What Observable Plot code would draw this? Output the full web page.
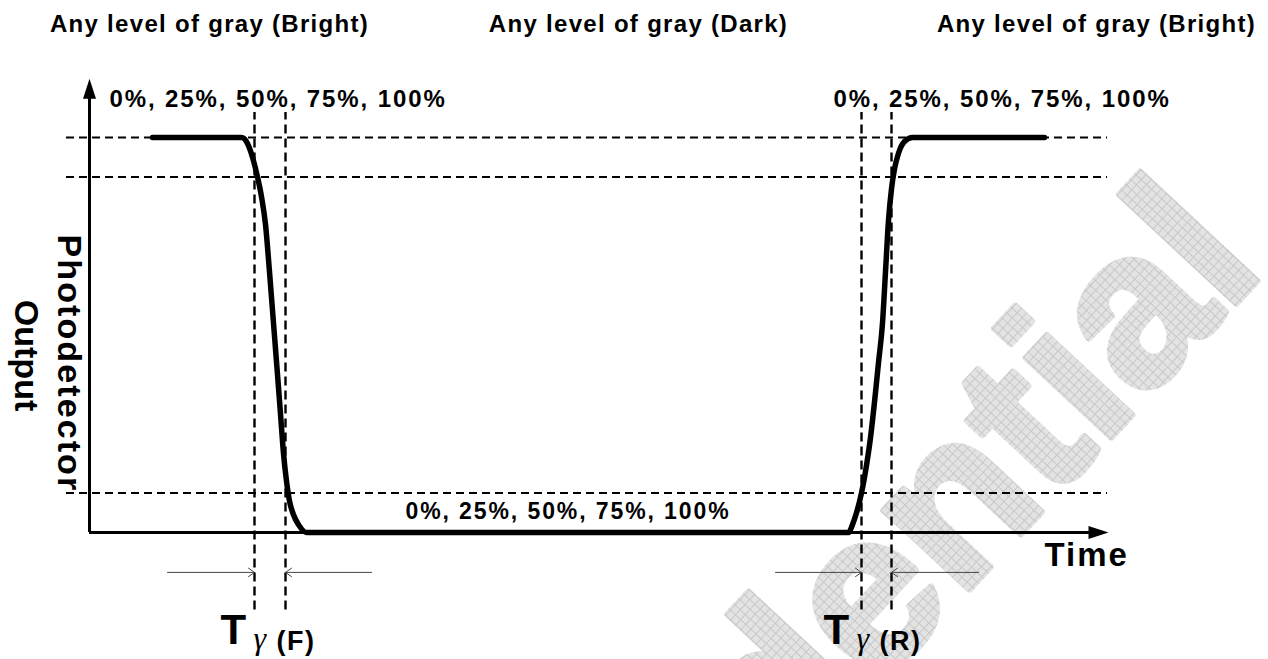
<!DOCTYPE html>
<html><head><meta charset="utf-8">
<script src="https://cdn.jsdelivr.net/npm/d3@7"></script>
<script src="https://cdn.jsdelivr.net/npm/@observablehq/plot@0.6"></script>
<style>html,body{margin:0;padding:0;background:#fff;} #chart svg{display:block;}</style>
</head><body><div id="chart"></div>
<script>
// ---- data (time in arbitrary units, output in % of full swing) ----
const curveTime   = [6.3, 15.2, 15.8, 16.3, 16.8, 17.2, 17.6, 18.0, 18.4, 18.8, 19.1, 19.4, 19.7, 20.0, 20.4, 20.9, 21.7,
                     75.9, 76.3, 76.7, 77.2, 77.7, 78.1, 78.5, 78.9, 79.3, 79.6, 79.9, 80.2, 80.5, 80.9, 81.5, 82.3, 95.5];
const curveOutput = [100, 100, 98.5, 95, 90, 85, 78, 66, 53, 40, 30, 20, 13, 8, 4.5, 2, 0,
                     0, 2, 5, 10, 17, 24, 33, 43, 53, 66, 79, 87, 92, 96, 99, 100, 100];
const levels = [100, 90, 10];
const edgeTimes = [16.5, 19.6, 77.2, 80.2];
const arrowStart = [7.8, 28.2, 68.6, 88.9];
const arrowEnd   = [16.5, 19.6, 77.2, 80.2];
const phaseTitles = ["Any level of gray (Bright)", "Any level of gray (Dark)", "Any level of gray (Bright)"];
const phaseCenters = [12.0, 54.9, 100.7];
const levelLabel = "0%, 25%, 50%, 75%, 100%";
const edgeNames = ["(F)", "(R)"];
const edgeLabelTimes = [13.1, 73.4];
const axisLabels = ["Photodetector", "Output"];
const timeLabel = "Time";
const watermarkWord = "Confidential";

const curve = curveTime.map((t, i) => ({t, v: curveOutput[i]}));
const arrows = arrowStart.map((s, i) => ({s, e: arrowEnd[i]}));

const upHead = {draw(ctx) { ctx.moveTo(0, 0); ctx.lineTo(6.5, 20); ctx.lineTo(-6.5, 20); ctx.closePath(); }};
const rightHead = {draw(ctx) { ctx.moveTo(0, 0); ctx.lineTo(-20, -6.5); ctx.lineTo(-20, 6.5); ctx.closePath(); }};

const bold = {fontWeight: "bold", lineAnchor: "bottom", fill: "black"};

const svg = Plot.plot({
  width: 1268, height: 659, margin: 0,
  x: {domain: [-8.9, 117.9], axis: null},
  y: {domain: [-32.15, 134.68], axis: null},
  style: {fontFamily: "'Liberation Sans', Arial, Helvetica, sans-serif", background: "white", color: "black"},
  marks: [
    Plot.text([watermarkWord], {x: 117.8, y: 66.6, text: d => d, rotate: -47, textAnchor: "end", lineAnchor: "bottom",
      fontSize: 220, fontWeight: "bold", fill: "url(#wmHatch)", stroke: "url(#wmHatch)", strokeWidth: 7, strokeLinejoin: "round"}),
    Plot.ruleY(levels, {x1: -2.3, x2: 101.8, stroke: "black", strokeWidth: 2, strokeDasharray: "8,5"}),
    Plot.ruleX(edgeTimes, {y1: -19.6, y2: 106.3, stroke: "black", strokeWidth: 2.4, strokeDasharray: "9,5"}),
    Plot.ruleX([0], {y1: 0, y2: 110, stroke: "black", strokeWidth: 3}),
    Plot.ruleY([0], {x1: 0, x2: 100, stroke: "black", strokeWidth: 3}),
    Plot.dot([0], {x: 0, y: 114.9, symbol: upHead, fill: "black", stroke: "none"}),
    Plot.dot([0], {x: 101.9, y: 0, symbol: rightHead, fill: "black", stroke: "none"}),
    Plot.line(curve, {x: "t", y: "v", curve: "monotone-x", stroke: "black", strokeWidth: 5.5, strokeLinecap: "round", strokeLinejoin: "round"}),
    Plot.arrow(arrows, {x1: "s", x2: "e", y1: -10.1, y2: -10.1, stroke: "#444", strokeWidth: 1, headLength: 11, headAngle: 70}),
    Plot.text(phaseTitles, {x: (d, i) => phaseCenters[i], y: 126.6, text: d => d, textAnchor: "middle", fontSize: 24, ...bold}),
    Plot.text([levelLabel, levelLabel], {x: [2.0, 74.4], y: [107.6, 107.6], text: d => d, textAnchor: "start", fontSize: 24, ...bold}),
    Plot.text([levelLabel], {x: 31.6, y: 3.3, text: d => d, textAnchor: "start", fontSize: 23, ...bold}),
    Plot.text([timeLabel], {x: 95.5, y: -8.6, text: d => d, textAnchor: "start", fontSize: 33, ...bold}),
    Plot.text(edgeNames, {x: (d, i) => edgeLabelTimes[i], y: -28.3, text: () => "T", textAnchor: "start", fontSize: 42, ...bold}),
    Plot.text(edgeNames, {x: (d, i) => edgeLabelTimes[i] + 3.3, y: -29.4, text: () => "γ", textAnchor: "start", fontSize: 32,
      fontStyle: "italic", fontFamily: "'Liberation Serif', 'DejaVu Serif', serif", lineAnchor: "bottom"}),
    Plot.text(edgeNames, {x: (d, i) => edgeLabelTimes[i] + 5.6, y: -29.7, text: d => d, textAnchor: "start", fontSize: 27, ...bold}),
    Plot.text(axisLabels, {x: [-3.2, -7.5], y: [42.8, 44.8], text: d => d, rotate: 90, textAnchor: "middle", fontSize: 34, ...bold})
  ]
});

const ns = "http://www.w3.org/2000/svg";
const defs = document.createElementNS(ns, "defs");
const pat = document.createElementNS(ns, "pattern");
pat.setAttribute("id", "wmHatch"); pat.setAttribute("width", "7"); pat.setAttribute("height", "7");
pat.setAttribute("patternUnits", "userSpaceOnUse");
const bg = document.createElementNS(ns, "rect");
bg.setAttribute("width", "7"); bg.setAttribute("height", "7"); bg.setAttribute("fill", "#e3e3e3");
const grid = document.createElementNS(ns, "path");
grid.setAttribute("d", "M0 0.5H7M0.5 0V7"); grid.setAttribute("stroke", "#c8c8c8"); grid.setAttribute("stroke-width", "1");
pat.appendChild(bg); pat.appendChild(grid); defs.appendChild(pat);
svg.insertBefore(defs, svg.firstChild);

// letter spacing per label text
const spacing = new Map([
  [phaseTitles[0], "1.3px"], [phaseTitles[1], "1.3px"],
  [levelLabel, "1.9px"], [timeLabel, "2px"],
  [edgeNames[0], "1.5px"], [edgeNames[1], "1.5px"],
  [axisLabels[0], "2.1px"]
]);
svg.querySelectorAll("text").forEach(t => {
  const s = spacing.get(t.textContent);
  if (s) t.style.letterSpacing = s;
});
document.getElementById("chart").appendChild(svg);
</script>
</body></html>
